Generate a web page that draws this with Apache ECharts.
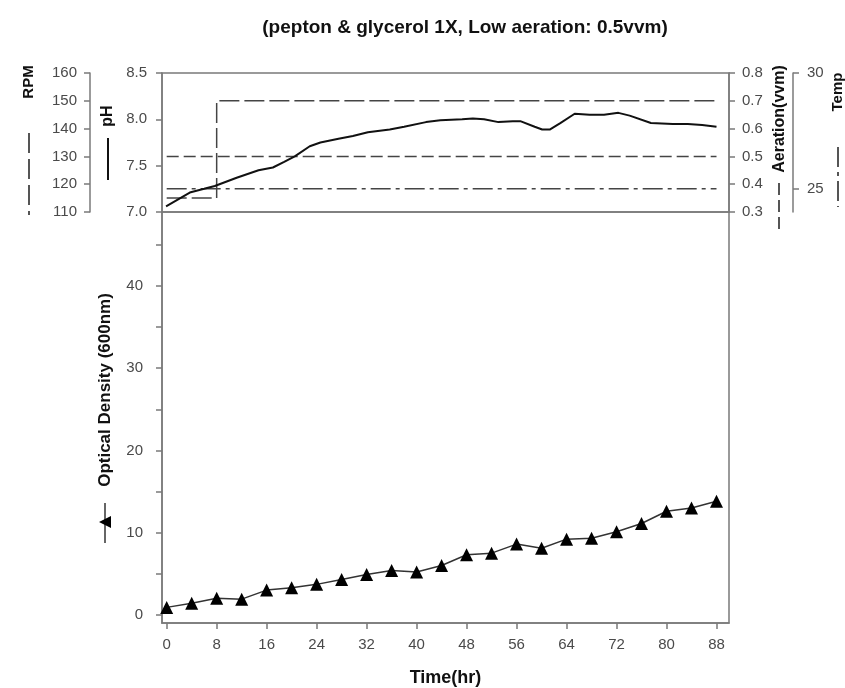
<!DOCTYPE html>
<html>
<head>
<meta charset="utf-8">
<script src="https://cdn.jsdelivr.net/npm/echarts@6/dist/echarts.min.js"></script>
<style>
  html, body { margin: 0; padding: 0; background: #fff; }
  #chartBox { width: 845px; height: 688px; }
</style>
</head>
<body>
<div id="chartBox"></div>
<script>
// time axis
const timeTicks = [0, 8, 16, 24, 32, 40, 48, 56, 64, 72, 80, 88];

// optical density, sampled every 4 hr
const odHours = [0, 4, 8, 12, 16, 20, 24, 28, 32, 36, 40, 44, 48, 52, 56, 60, 64, 68, 72, 76, 80, 84, 88];
const odValues = [0.9, 1.4, 2.0, 1.9, 3.0, 3.3, 3.7, 4.3, 4.9, 5.4, 5.2, 6.0, 7.3, 7.5, 8.6, 8.1, 9.2, 9.3, 10.1, 11.1, 12.6, 13.0, 13.8];
const odTickLabels = [0, 10, 20, 30, 40];
const odTicks = [0, 5, 10, 15, 20, 25, 30, 35, 40, 45];

// pH trace
const phHours = [-0.1, 3.7, 6.0, 7.7, 11.2, 14.7, 17.0, 18.8, 20.5, 22.9, 24.6, 27.5, 29.8, 32.2, 35.7, 38.0, 41.5, 43.8, 47.3, 49.0, 50.8, 53.1, 55.4, 56.6, 58.9, 60.1, 61.3, 63.0, 65.3, 67.7, 70.0, 72.3, 74.1, 77.5, 81.0, 83.4, 85.7, 88.0];
const phValues = [7.06, 7.21, 7.25, 7.28, 7.37, 7.45, 7.48, 7.54, 7.60, 7.71, 7.75, 7.79, 7.82, 7.86, 7.89, 7.92, 7.97, 7.99, 8.00, 8.01, 8.00, 7.97, 7.98, 7.98, 7.92, 7.89, 7.89, 7.96, 8.06, 8.05, 8.05, 8.07, 8.04, 7.96, 7.95, 7.95, 7.94, 7.92];

// set points
const rpmHours = [0, 8, 8, 88];
const rpmValues = [115, 115, 150, 150];
const aerationHours = [0, 88];
const aerationValues = [0.5, 0.5];
const tempHours = [0, 88];
const tempValues = [25, 25];
const tempTickLabels = [25, 30];

function zip(xs, ys) {
    return xs.map((x, i) => [x, ys[i]]);
}

const axisGrey = '#7a7a7a';
const labelGrey = '#4a4a4a';
const font = 'Liberation Sans, Arial, sans-serif';

let myChart = echarts.init(document.getElementById('chartBox'));

let tickLabel = {
    fontSize: 15,
    color: labelGrey,
    fontFamily: font
};
let axisLine = {show: true, onZero: false, lineStyle: {color: axisGrey, width: 1.5}};

let option = {
    backgroundColor: '#fff',
    animation: false,
    title: {
        text: '(pepton & glycerol 1X, Low aeration: 0.5vvm)',
        left: 460,
        top: 13,
        textAlign: 'center',
        textStyle: {
            fontSize: 19,
            fontWeight: 'bold',
            color: '#111',
            fontFamily: font
        }
    },
    grid: [
        {left: 162, right: 116, top: 73, height: 139, outerBoundsMode: 'none', show: true, borderColor: axisGrey, borderWidth: 1.5},
        {left: 162, right: 116, top: 212, height: 411, outerBoundsMode: 'none', show: true, borderColor: axisGrey, borderWidth: 1.5}
    ],
    xAxis: [
        {
            gridIndex: 0, type: 'value', min: -0.75, max: 90,
            axisLine: {show: false, onZero: false}, axisTick: {show: false},
            axisLabel: {show: false}, splitLine: {show: false}
        },
        {
            gridIndex: 1, type: 'value', min: -0.75, max: 90,
            name: 'Time(hr)', nameLocation: 'middle', nameGap: 46,
            nameTextStyle: {fontSize: 18, fontWeight: 'bold', color: '#111', fontFamily: font},
            axisLine: axisLine,
            axisTick: {show: true, customValues: timeTicks, length: 6, lineStyle: {color: axisGrey, width: 1.5}},
            axisLabel: Object.assign({customValues: timeTicks, margin: 14}, tickLabel),
            splitLine: {show: false}
        }
    ],
    yAxis: [
        // pH
        {
            gridIndex: 0, type: 'value', position: 'left', min: 7, max: 8.5, interval: 0.5,
            axisLine: axisLine,
            axisTick: {show: true, length: 6, lineStyle: {color: axisGrey, width: 1.5}},
            axisLabel: Object.assign({margin: 15, formatter: v => v.toFixed(1)}, tickLabel),
            splitLine: {show: false}
        },
        // RPM
        {
            gridIndex: 0, type: 'value', position: 'left', offset: 72, min: 110, max: 160, interval: 10,
            axisLine: axisLine,
            axisTick: {show: true, length: 6, lineStyle: {color: axisGrey, width: 1.5}},
            axisLabel: Object.assign({margin: 13}, tickLabel),
            splitLine: {show: false}
        },
        // Aeration
        {
            gridIndex: 0, type: 'value', position: 'right', min: 0.3, max: 0.8, interval: 0.1,
            axisLine: axisLine,
            axisTick: {show: true, length: 6, lineStyle: {color: axisGrey, width: 1.5}},
            axisLabel: Object.assign({margin: 13, formatter: v => v.toFixed(1)}, tickLabel),
            splitLine: {show: false}
        },
        // Temp
        {
            gridIndex: 0, type: 'value', position: 'right', offset: 64, min: 24, max: 30,
            axisLine: axisLine,
            axisTick: {show: true, customValues: tempTickLabels, length: 6, lineStyle: {color: axisGrey, width: 1.5}},
            axisLabel: Object.assign({margin: 14, customValues: tempTickLabels}, tickLabel),
            splitLine: {show: false}
        },
        // Optical density
        {
            gridIndex: 1, type: 'value', position: 'left', min: -1, max: 49,
            axisLine: axisLine,
            axisTick: {show: true, customValues: odTicks, length: 6, lineStyle: {color: axisGrey, width: 1.5}},
            axisLabel: Object.assign({margin: 19, customValues: odTickLabels}, tickLabel),
            splitLine: {show: false}
        }
    ],
    series: [
        {
            name: 'RPM', type: 'line', xAxisIndex: 0, yAxisIndex: 1,
            data: zip(rpmHours, rpmValues), showSymbol: false, silent: true,
            lineStyle: {color: '#444', width: 1.5, type: [20, 5]}
        },
        {
            name: 'Aeration', type: 'line', xAxisIndex: 0, yAxisIndex: 2,
            data: zip(aerationHours, aerationValues), showSymbol: false, silent: true,
            lineStyle: {color: '#444', width: 1.5, type: [12, 5]}
        },
        {
            name: 'Temp', type: 'line', xAxisIndex: 0, yAxisIndex: 3,
            data: zip(tempHours, tempValues), showSymbol: false, silent: true,
            lineStyle: {color: '#444', width: 1.5, type: [20, 5, 4, 5]}
        },
        {
            name: 'pH', type: 'line', xAxisIndex: 0, yAxisIndex: 0,
            data: zip(phHours, phValues), showSymbol: false, silent: true,
            lineStyle: {color: '#111', width: 2}
        },
        {
            name: 'OD', type: 'line', xAxisIndex: 1, yAxisIndex: 4,
            data: zip(odHours, odValues),
            symbol: 'triangle', symbolSize: 13, showSymbol: true,
            itemStyle: {color: '#000'},
            lineStyle: {color: '#333', width: 1.5}
        }
    ],
    graphic: [
        // axis titles
        {type: 'text', x: 29, y: 82, rotation: Math.PI / 2,
            style: {text: 'RPM', font: 'bold 15px ' + font, fill: '#111', align: 'center', verticalAlign: 'middle'}},
        {type: 'text', x: 108, y: 116, rotation: Math.PI / 2,
            style: {text: 'pH', font: 'bold 16px ' + font, fill: '#111', align: 'center', verticalAlign: 'middle'}},
        {type: 'text', x: 780, y: 119, rotation: Math.PI / 2,
            style: {text: 'Aeration(vvm)', font: 'bold 16px ' + font, fill: '#111', align: 'center', verticalAlign: 'middle'}},
        {type: 'text', x: 838, y: 92, rotation: Math.PI / 2,
            style: {text: 'Temp', font: 'bold 15px ' + font, fill: '#111', align: 'center', verticalAlign: 'middle'}},
        {type: 'text', x: 105, y: 390, rotation: Math.PI / 2,
            style: {text: 'Optical Density (600nm)', font: 'bold 17px ' + font, fill: '#111', align: 'center', verticalAlign: 'middle'}},
        // legend keys
        {type: 'line', shape: {x1: 29, y1: 133, x2: 29, y2: 215},
            style: {stroke: '#555', lineWidth: 2, lineDash: [20, 6]}},
        {type: 'line', shape: {x1: 108, y1: 138, x2: 108, y2: 180},
            style: {stroke: '#111', lineWidth: 2}},
        {type: 'line', shape: {x1: 779, y1: 183, x2: 779, y2: 232},
            style: {stroke: '#555', lineWidth: 2, lineDash: [12, 5]}},
        {type: 'line', shape: {x1: 838, y1: 147, x2: 838, y2: 207},
            style: {stroke: '#555', lineWidth: 2, lineDash: [20, 5, 4, 5]}},
        {type: 'line', shape: {x1: 105, y1: 503, x2: 105, y2: 543},
            style: {stroke: '#333', lineWidth: 1.5}},
        {type: 'polygon', shape: {points: [[105, 516], [111, 528], [99, 528]]},
            rotation: Math.PI / 2, originX: 105, originY: 522,
            style: {fill: '#000'}}
    ]
};

myChart.setOption(option);
</script>
</body>
</html>
